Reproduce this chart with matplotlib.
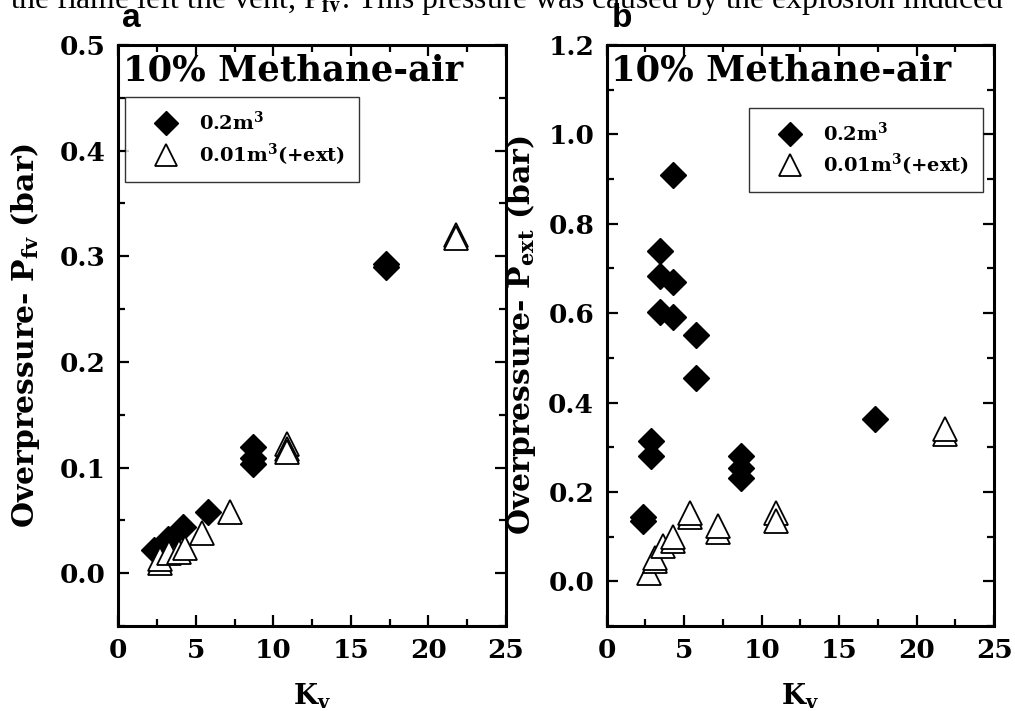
import matplotlib
matplotlib.use("Agg")
import matplotlib.pyplot as plt
from matplotlib.ticker import MultipleLocator

plt.rcParams['font.family'] = ['DejaVu Serif']
plt.rcParams['font.weight'] = 'bold'
plt.rcParams['mathtext.fontset'] = 'custom'
plt.rcParams['mathtext.rm'] = 'DejaVu Serif:bold'
plt.rcParams['mathtext.it'] = 'DejaVu Serif:bold'
plt.rcParams['mathtext.bf'] = 'DejaVu Serif:bold'

# ---- data: panel a (P_fv) ----
a_big_kv = [2.3, 3.2, 4.2, 5.8, 8.7, 8.7, 8.7, 17.3, 17.3]
a_big_p = [0.022, 0.032, 0.044, 0.058, 0.119, 0.109, 0.103, 0.293, 0.290]
a_small_kv = [2.7, 2.7, 3.3, 3.9, 4.3, 5.4, 7.2, 10.9, 10.9, 10.9, 21.8, 21.8]
a_small_p = [0.010, 0.013, 0.019, 0.020, 0.024, 0.038, 0.058, 0.122, 0.118, 0.115, 0.320, 0.317]

# ---- data: panel b (P_ext) ----
b_big_kv = [2.35, 2.35, 2.85, 2.85, 3.45, 3.45, 3.45, 4.3, 4.3, 4.3, 5.75, 5.75,
            8.65, 8.65, 8.65, 17.3]
b_big_p = [0.145, 0.134, 0.315, 0.280, 0.740, 0.683, 0.603, 0.909, 0.670, 0.592,
           0.551, 0.455, 0.280, 0.253, 0.231, 0.363]
b_small_kv = [2.7, 3.1, 3.1, 3.65, 4.3, 4.3, 5.4, 5.4, 7.2, 7.2, 10.9, 10.9, 21.8, 21.8]
b_small_p = [0.019, 0.045, 0.052, 0.078, 0.090, 0.100, 0.145, 0.153, 0.110, 0.123,
             0.153, 0.134, 0.330, 0.340]

legend_labels = [r'0.2m$^{3}$', r'0.01m$^{3}$(+ext)']
title_text = '10% Methane-air'
xlabel = r'K$_{\mathrm{v}}$'
ylabels = [r'Overpressure- P$_{\mathrm{fv}}$ (bar)', r'Overpressure- P$_{\mathrm{ext}}$ (bar)']

fig = plt.figure(figsize=(10.15, 7.11), dpi=100)
axA = fig.add_axes([118.3/1015, (711-626)/711, 387.5/1015, 581/711])
axB = fig.add_axes([606.7/1015, (711-626)/711, 387.5/1015, 581/711])

def style(ax, ylim, ymajor, yminor, ylab, ylab_x):
    ax.set_xlim(0, 25)
    ax.set_ylim(*ylim)
    ax.xaxis.set_major_locator(MultipleLocator(5))
    ax.xaxis.set_minor_locator(MultipleLocator(2.5))
    ax.yaxis.set_major_locator(MultipleLocator(ymajor))
    ax.yaxis.set_minor_locator(MultipleLocator(yminor))
    ax.tick_params(which='both', direction='in', top=True, right=True,
                   width=1.6, labelsize=19, pad=9)
    ax.tick_params(which='major', length=8)
    ax.tick_params(which='minor', length=5)
    for s in ax.spines.values():
        s.set_linewidth(2.2)
    for lab in ax.get_xticklabels() + ax.get_yticklabels():
        lab.set_fontweight('bold')
    ax.set_xlabel(xlabel, fontsize=20, fontweight='bold')
    ax.xaxis.set_label_coords(0.5, -0.095)
    ax.set_ylabel(ylab, fontsize=21.5, fontweight='bold')
    ax.yaxis.set_label_coords(ylab_x, 0.5)
    ax.text(0.012, 0.985, title_text, transform=ax.transAxes, fontsize=25.5,
            fontweight='bold', va='top', ha='left')

def plot_pts(ax, bkv, bp, skv, sp):
    h1, = ax.plot(bkv, bp, linestyle='none', marker='D', markersize=13,
                  color='black', markeredgecolor='black', label=legend_labels[0])
    h2, = ax.plot(skv, sp, linestyle='none', marker='^', markersize=17,
                  markerfacecolor='white', markeredgecolor='black',
                  markeredgewidth=1.3, label=legend_labels[1])
    return h1, h2

plot_pts(axA, a_big_kv, a_big_p, a_small_kv, a_small_p)
plot_pts(axB, b_big_kv, b_big_p, b_small_kv, b_small_p)
style(axA, (-0.05, 0.5), 0.1, 0.05, ylabels[0], -0.197)
style(axB, (-0.1, 1.2), 0.2, 0.1, ylabels[1], -0.177)

leg_kw = dict(fontsize=14, frameon=True, fancybox=False, edgecolor='black',
              handlelength=2.8, handletextpad=0.3, borderpad=0.7,
              labelspacing=0.4, markerscale=0.95, borderaxespad=0)
legA = axA.legend(loc='upper left', bbox_to_anchor=(0.017, 0.91), **leg_kw)
legB = axB.legend(loc='upper right', bbox_to_anchor=(0.971, 0.892), **leg_kw)
for leg in (legA, legB):
    leg.get_frame().set_linewidth(1.0)
    for t in leg.get_texts():
        t.set_fontweight('bold')

fig.text(122/1015, 1 - 27/711, 'a', family='Liberation Sans', fontweight='bold',
         fontsize=24, va='baseline')
fig.text(612/1015, 1 - 27/711, 'b', family='Liberation Sans', fontweight='bold',
         fontsize=24, va='baseline')
fig.text(0.5, 1 - 8/711, 'the flame left the vent, P$_{\\mathrm{fv}}$. This pressure was caused by the explosion induced',
         fontsize=22.8, family='Liberation Serif', fontweight='normal', ha='center',
         va='baseline', math_fontfamily='stix')

fig.savefig('out.png', dpi=100)
